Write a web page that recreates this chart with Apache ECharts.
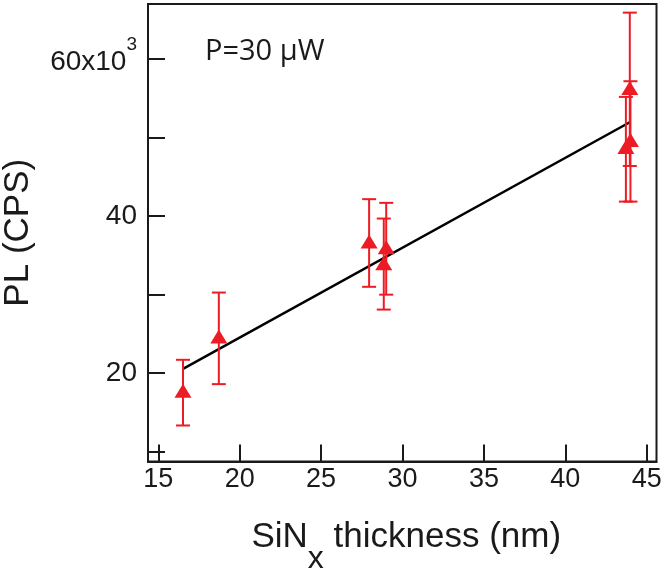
<!DOCTYPE html>
<html>
<head>
<meta charset="utf-8">
<script src="https://cdn.jsdelivr.net/npm/echarts@6/dist/echarts.min.js"></script>
<style>html,body{margin:0;padding:0;background:#fff}#c{width:666px;height:573px}</style>
</head>
<body>
<div id="c"></div>
<script>
// ---- data ----
const thickness = [16.52, 18.72, 27.95, 29.0, 28.85, 43.96, 44.0, 43.72];
const plValues  = [17.75, 24.66, 36.78, 36.05, 34.0, 56.34, 49.72, 48.83];
const errLow    = [13.33, 18.6, 31.0, 30.0, 28.1, 46.4, 41.86, 41.86];
const errHigh   = [21.7, 30.27, 42.17, 41.7, 39.7, 65.94, 57.2, 55.2];
const fitX = [16.52, 43.96];
const fitY = [20.55, 51.97];
const xTicks = [15, 20, 25, 30, 35, 40, 45];
const yTicks = [10, 20, 30, 40, 50, 60];
const yLabels = [20, 40, 60];

const RED = '#ED1C24';
const INK = '#1a1a1a';
const FONT = 'Liberation Sans';

const chart = echarts.init(document.getElementById('c'), null, {renderer: 'canvas'});

const pts = thickness.map((x, i) => [x, plValues[i]]);
const errs = thickness.map((x, i) => [x, errLow[i], errHigh[i]]);
const fit = fitX.map((x, i) => [x, fitY[i]]);

chart.setOption({
  animation: false,
  backgroundColor: '#fff',
  grid: {left: 148, right: 9.5, top: 4, bottom: 111.5, containLabel: false, outerBoundsMode: 'none',
         show: true, borderColor: INK, borderWidth: 2, backgroundColor: 'transparent'},
  xAxis: {
    type: 'value', min: 14.37, max: 45.6,
    axisLine: {show: true, onZero: false, lineStyle: {color: INK, width: 2}},
    axisTick: {show: true, inside: true, length: 17, lineStyle: {color: INK, width: 2}, customValues: xTicks},
    axisLabel: {show: true, margin: 5, fontFamily: FONT, fontSize: 27, color: INK, customValues: xTicks},
    splitLine: {show: false},
    name: '{a|SiN}{b|x}{a| thickness (nm)}',
    nameLocation: 'middle', nameGap: 58,
    nameTextStyle: {
      padding: [0, 0, 0, 8],
      rich: {
        a: {fontFamily: FONT, fontSize: 35, color: INK, verticalAlign: 'top'},
        b: {fontFamily: FONT, fontSize: 32, color: INK, verticalAlign: 'top', padding: [24, 0, 0, 0]}
      }
    }
  },
  yAxis: {
    type: 'value', min: 8.74, max: 67.04,
    axisLine: {show: true, onZero: false, lineStyle: {color: INK, width: 2}},
    axisTick: {show: true, inside: true, length: 17, lineStyle: {color: INK, width: 2}, customValues: yTicks},
    axisLabel: {
      show: true, margin: 11, customValues: yLabels,
      formatter: v => v === 60 ? '{c|60x10}{s|3}' : '{a|' + v + '}',
      rich: {
        a: {fontFamily: FONT, fontSize: 28, lineHeight: 28, color: INK},
        c: {fontFamily: FONT, fontSize: 28, lineHeight: 28, color: INK, padding: [6, 0, 0, 0]},
        s: {fontFamily: FONT, fontSize: 19, lineHeight: 19, color: INK, padding: [0, 0, 28, 0]}
      }
    },
    splitLine: {show: false},
    name: 'PL (CPS)', nameLocation: 'middle', nameGap: 112,
    nameTextStyle: {fontFamily: FONT, fontSize: 35, color: INK}
  },
  graphic: [{
    type: 'text', left: 205, top: 37,
    style: {text: 'P=30 μW', fontFamily: 'Open Sans', fontSize: 29, fill: INK}
  }],
  series: [
    {
      type: 'line', data: fit, symbol: 'none',
      lineStyle: {color: '#000', width: 2.5}, z: 2
    },
    {
      type: 'custom', data: errs, z: 3,
      renderItem: function (params, api) {
        const x = api.value(0), lo = api.value(1), hi = api.value(2);
        const a = api.coord([x, lo]), b = api.coord([x, hi]);
        const w = 7;
        const st = {stroke: RED, lineWidth: 2};
        return {type: 'group', children: [
          {type: 'line', shape: {x1: a[0], y1: a[1], x2: b[0], y2: b[1]}, style: st},
          {type: 'line', shape: {x1: a[0] - w, y1: a[1], x2: a[0] + w, y2: a[1]}, style: st},
          {type: 'line', shape: {x1: b[0] - w, y1: b[1], x2: b[0] + w, y2: b[1]}, style: st}
        ]};
      }
    },
    {
      type: 'scatter', data: pts, symbol: 'triangle', symbolSize: [17, 14],
      itemStyle: {color: RED, opacity: 1}, z: 4
    }
  ]
});
</script>
</body>
</html>
